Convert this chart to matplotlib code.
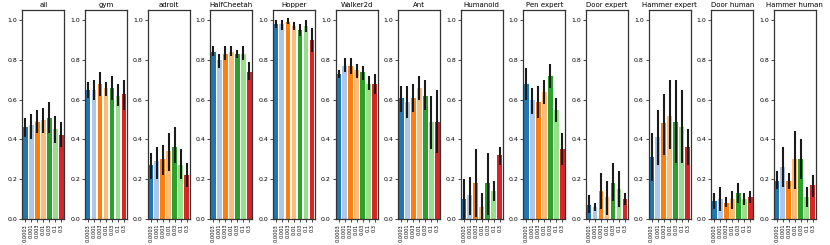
import numpy as np
import matplotlib
matplotlib.use('Agg')
import matplotlib.pyplot as plt

# learning rates / settings on the x axis
labels = ['0.0003', '0.001', '0.003', '0.01', '0.03', '0.1', '0.3']
colors = ['#1f77b4', '#aec7e8', '#ff7f0e', '#ffbb78', '#2ca02c', '#98df8a', '#d62728']

tasks = ['all', 'gym', 'adroit', 'HalfCheetah', 'Hopper', 'Walker2d', 'Ant', 'Humanoid',
         'Pen expert', 'Door expert', 'Hammer expert', 'Door human', 'Hammer human']

# mean scores per task
means = {
    'all':           [0.46, 0.47, 0.49, 0.50, 0.51, 0.45, 0.42],
    'gym':           [0.65, 0.65, 0.68, 0.66, 0.66, 0.62, 0.63],
    'adroit':        [0.27, 0.29, 0.30, 0.34, 0.36, 0.27, 0.22],
    'HalfCheetah':   [0.84, 0.80, 0.83, 0.84, 0.83, 0.83, 0.74],
    'Hopper':        [0.98, 0.98, 0.99, 0.97, 0.95, 0.97, 0.90],
    'Walker2d':      [0.73, 0.77, 0.77, 0.75, 0.74, 0.68, 0.68],
    'Ant':           [0.61, 0.59, 0.61, 0.66, 0.62, 0.49, 0.49],
    'Humanoid':      [0.10, 0.12, 0.18, 0.06, 0.18, 0.14, 0.32],
    'Pen expert':    [0.68, 0.60, 0.59, 0.64, 0.72, 0.55, 0.35],
    'Door expert':   [0.07, 0.06, 0.14, 0.11, 0.18, 0.15, 0.10],
    'Hammer expert': [0.31, 0.41, 0.48, 0.52, 0.49, 0.46, 0.36],
    'Door human':    [0.09, 0.10, 0.08, 0.10, 0.13, 0.10, 0.11],
    'Hammer human':  [0.19, 0.26, 0.19, 0.30, 0.30, 0.11, 0.17],
}

# confidence interval low / high
ci_low = {
    'all':           [0.41, 0.40, 0.43, 0.43, 0.43, 0.38, 0.36],
    'gym':           [0.61, 0.60, 0.62, 0.62, 0.60, 0.57, 0.55],
    'adroit':        [0.20, 0.20, 0.22, 0.24, 0.28, 0.20, 0.16],
    'HalfCheetah':   [0.82, 0.76, 0.80, 0.82, 0.81, 0.80, 0.70],
    'Hopper':        [0.96, 0.95, 0.98, 0.95, 0.92, 0.94, 0.84],
    'Walker2d':      [0.71, 0.74, 0.73, 0.71, 0.70, 0.65, 0.63],
    'Ant':           [0.54, 0.51, 0.54, 0.60, 0.55, 0.35, 0.33],
    'Humanoid':      [0.00, 0.02, 0.01, 0.00, 0.02, 0.09, 0.27],
    'Pen expert':    [0.60, 0.53, 0.51, 0.58, 0.66, 0.49, 0.27],
    'Door expert':   [0.03, 0.04, 0.05, 0.02, 0.09, 0.06, 0.07],
    'Hammer expert': [0.19, 0.27, 0.32, 0.35, 0.28, 0.28, 0.27],
    'Door human':    [0.05, 0.04, 0.06, 0.05, 0.08, 0.07, 0.08],
    'Hammer human':  [0.15, 0.16, 0.15, 0.15, 0.20, 0.06, 0.11],
}
ci_high = {
    'all':           [0.51, 0.53, 0.55, 0.56, 0.59, 0.52, 0.49],
    'gym':           [0.69, 0.70, 0.74, 0.69, 0.72, 0.68, 0.70],
    'adroit':        [0.33, 0.36, 0.37, 0.43, 0.46, 0.35, 0.28],
    'HalfCheetah':   [0.87, 0.83, 0.87, 0.87, 0.85, 0.87, 0.79],
    'Hopper':        [1.00, 1.00, 1.01, 0.99, 0.98, 1.00, 0.96],
    'Walker2d':      [0.75, 0.81, 0.81, 0.78, 0.77, 0.72, 0.73],
    'Ant':           [0.67, 0.67, 0.68, 0.72, 0.70, 0.62, 0.65],
    'Humanoid':      [0.20, 0.21, 0.35, 0.13, 0.33, 0.19, 0.36],
    'Pen expert':    [0.76, 0.66, 0.67, 0.70, 0.78, 0.61, 0.43],
    'Door expert':   [0.12, 0.08, 0.23, 0.19, 0.28, 0.24, 0.13],
    'Hammer expert': [0.43, 0.55, 0.63, 0.70, 0.70, 0.65, 0.45],
    'Door human':    [0.13, 0.16, 0.11, 0.14, 0.18, 0.13, 0.14],
    'Hammer human':  [0.24, 0.36, 0.23, 0.44, 0.40, 0.16, 0.22],
}

fig, axes = plt.subplots(1, len(tasks), figsize=(8.3, 2.45), dpi=100)
plt.subplots_adjust(left=0.027, right=0.983, top=0.959, bottom=0.106, wspace=0.49)

x = np.arange(len(labels))
for ax, task in zip(axes, tasks):
    m = np.array(means[task])
    lo = m - np.array(ci_low[task])
    hi = np.array(ci_high[task]) - m
    ax.bar(x, m, width=0.8, color=colors)
    ax.errorbar(x, m, yerr=[lo, hi], fmt='none', ecolor='#1a1a1a', elinewidth=1.5, capsize=0)
    ax.set_title(task, fontsize=5, pad=2)
    ax.set_ylim(0, 1.05)
    ax.set_xlim(-0.5, len(labels) - 0.5)
    ax.set_yticks([0.0, 0.2, 0.4, 0.6, 0.8, 1.0])
    ax.set_xticks(x)
    ax.set_xticklabels(labels, rotation=90)
    ax.tick_params(axis='y', labelsize=4.5, length=2, width=0.5, pad=1.5)
    ax.tick_params(axis='x', labelsize=3.6, length=2, width=0.5, pad=1.5)
    for s in ax.spines.values():
        s.set_linewidth(0.9)
        s.set_color('#333333')

plt.savefig('out.png', dpi=100)
